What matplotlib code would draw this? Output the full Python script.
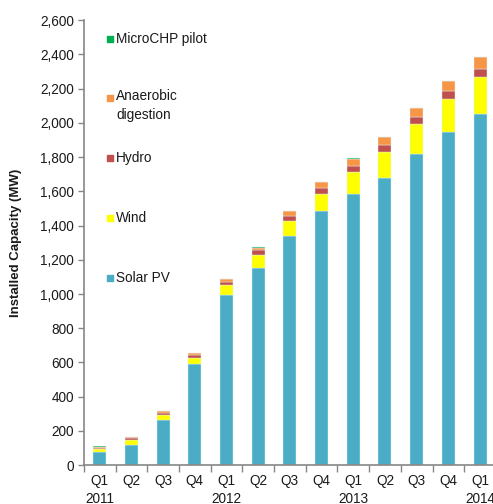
import matplotlib
matplotlib.use('Agg')
import matplotlib.pyplot as plt
import numpy as np

plt.rcParams['font.family'] = ['Liberation Sans', 'DejaVu Sans']

# Quarterly installed capacity (MW), Q1 2011 .. Q1 2014
quarters = ['Q1\n2011', 'Q2', 'Q3', 'Q4', 'Q1\n2012', 'Q2', 'Q3', 'Q4',
            'Q1\n2013', 'Q2', 'Q3', 'Q4', 'Q1\n2014']
solar = [77, 120, 262, 592, 995, 1150, 1338, 1486, 1583, 1680, 1818, 1947, 2054]
wind = [15, 25, 30, 33, 55, 77, 88, 101, 132, 150, 175, 194, 213]
hydro = [10, 11, 14, 16, 22, 29, 31, 35, 33, 39, 39, 43, 47]
anaerobic = [7, 9, 9, 13, 13, 15, 27, 31, 43, 48, 55, 58, 70]
microchp = [1, 1, 2, 3, 4, 2, 2, 2, 2, 2, 1, 1, 1]

series = [('Solar PV', solar, '#4BACC6'),
          ('Wind', wind, '#FFFF00'),
          ('Hydro', hydro, '#C0504D'),
          ('Anaerobic\ndigestion', anaerobic, '#F79646'),
          ('MicroCHP pilot', microchp, '#00B050')]

AXIS = '#868686'
TEXT = '#1A1A1A'

fig = plt.figure(figsize=(4.93, 5.04), dpi=100)
ax = fig.add_axes([0.170, 0.077, 0.836, 0.883])

x = np.arange(len(quarters))
bottom = np.zeros(len(quarters))
for name, vals, color in series:
    ax.bar(x, vals, bottom=bottom, width=0.41, color=color,
           edgecolor='#E4F2F5', linewidth=0.3)
    bottom += np.array(vals)

ax.set_xlim(-0.5, 12.5)
ax.set_ylim(0, 2600)
ax.set_yticks(np.arange(0, 2601, 200))
ax.set_yticklabels([f'{v:,}' for v in range(0, 2601, 200)])

# category boundaries as major ticks, labels on minor ticks
ax.set_xticks(np.arange(-0.5, 13, 1))
ax.set_xticklabels([])
ax.set_xticks(x, minor=True)
ax.set_xticklabels(quarters, minor=True, linespacing=1.4)
ax.tick_params(axis='x', which='minor', length=0, pad=6, labelsize=9.8, labelcolor=TEXT)
ax.tick_params(axis='x', which='major', length=5, color=AXIS, width=1)
ax.tick_params(axis='y', length=4, color=AXIS, width=1, labelsize=9.8, labelcolor=TEXT, pad=3)

for s in ['top', 'right']:
    ax.spines[s].set_visible(False)
ax.spines['left'].set_color(AXIS)
ax.spines['bottom'].set_color(AXIS)
ax.spines['left'].set_linewidth(1.2)
ax.spines['bottom'].set_linewidth(1.2)

ax.set_ylabel('Installed Capacity (MW)', fontsize=9.5, fontweight='bold',
              color=TEXT, labelpad=13)

# legend drawn as a column of markers and labels, top entry first
leg_y = [0.958, 0.826, 0.69, 0.556, 0.42]
for (name, vals, color), yy in zip(series[::-1], leg_y):
    ax.scatter([0.063], [yy], marker='s', s=22, color=color,
               transform=ax.transAxes, clip_on=False)
    two_lines = '\n' in name
    ax.text(0.078, yy + (0.019 if two_lines else 0), name, transform=ax.transAxes,
            fontsize=9.8, color=TEXT, va='top' if two_lines else 'center',
            ha='left', linespacing=1.45)

fig.savefig('out.png', dpi=100)
